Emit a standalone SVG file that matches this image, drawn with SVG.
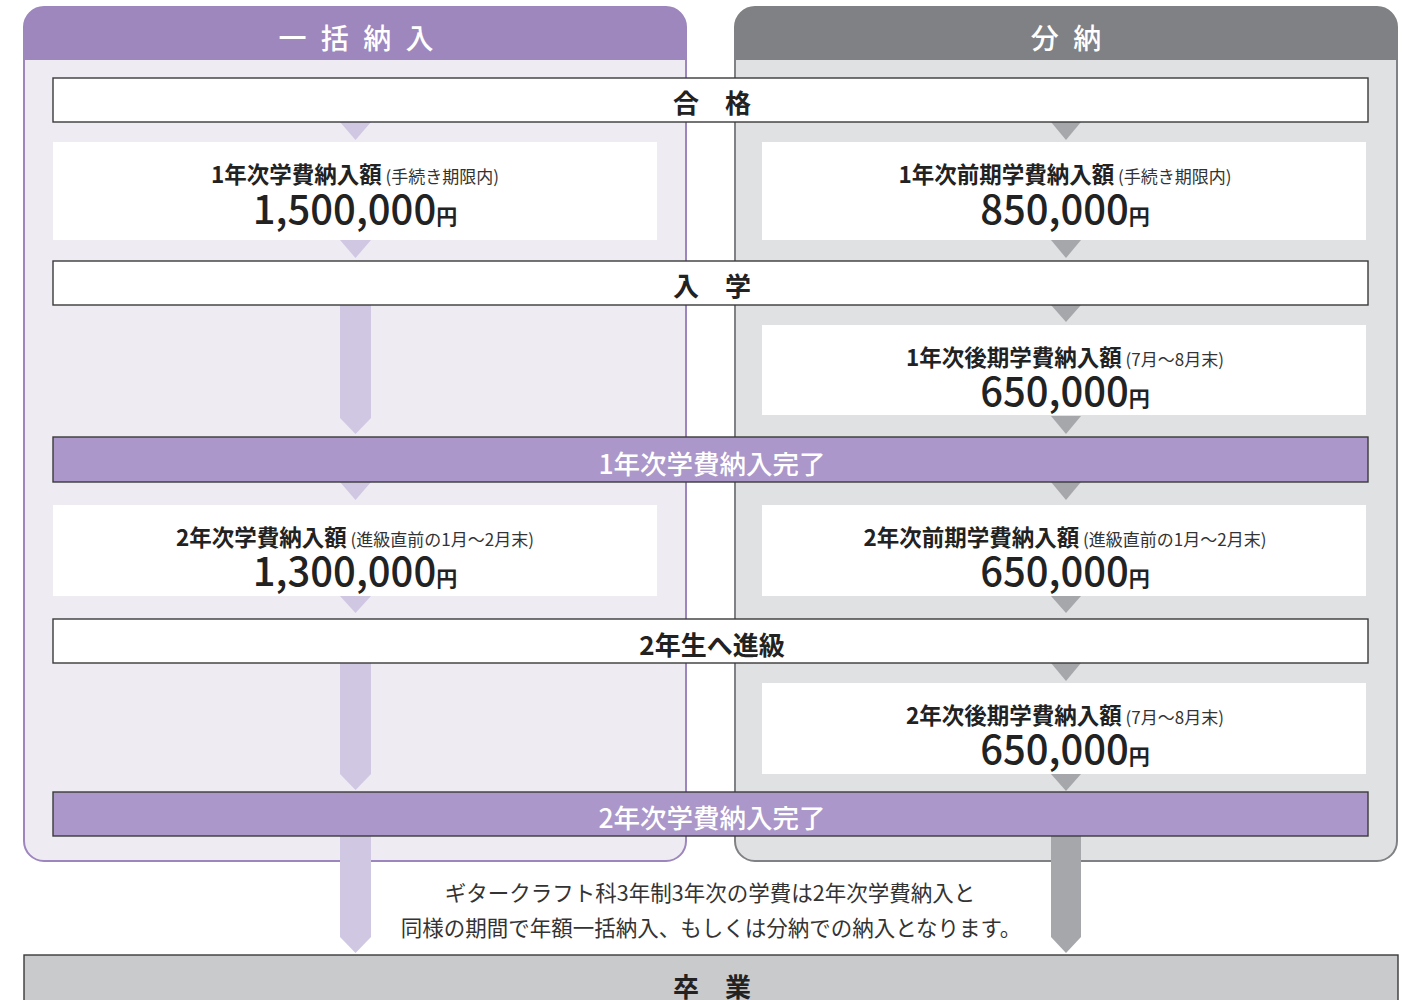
<svg xmlns="http://www.w3.org/2000/svg" width="1412" height="1000" viewBox="0 0 1412 1000">
<style>
text{font-family:"Noto Sans CJK JP","Noto Sans",sans-serif;}
.hdr{fill:#fff;font-size:28px;font-weight:500;text-anchor:middle;letter-spacing:4px;}
.stage{fill:#222;font-size:26px;font-weight:700;text-anchor:middle;}
.done{fill:#fff;font-size:26.5px;font-weight:500;text-anchor:middle;}
.lbl{fill:#222;font-size:22.5px;font-weight:700;text-anchor:middle;}
.sub{font-size:17px;font-weight:400;fill:#333;}
.amt{fill:#222;font-size:40px;font-weight:500;text-anchor:middle;}
.yen{font-size:21px;font-weight:700;}
.note{fill:#333;font-size:21.5px;font-weight:400;text-anchor:middle;}
.wbox{fill:#fff;}
.sbox{fill:#fff;stroke:#3a3a3a;stroke-width:1.4;}
.pbar{fill:#ab97c9;stroke:#3a3a3a;stroke-width:1.4;}
.la{fill:#d0c7e3;}
.ra{fill:#a6a7aa;}
</style>
<rect width="1412" height="1000" fill="#fff"/>
<g id="panel-lump">
<rect x="24" y="7" width="662" height="854" rx="20" fill="#eeebf3" stroke="#9c86bd" stroke-width="2"/>
<path d="M24,60 V27 A20,20 0 0 1 44,7 H666 A20,20 0 0 1 686,27 V60 Z" fill="#9d87bd"/>
<text class="hdr" x="358" y="49">一 括 納 入</text>
</g>
<g id="panel-split">
<rect x="735" y="7" width="662" height="854" rx="20" fill="#e0e1e3" stroke="#808184" stroke-width="2"/>
<path d="M735,60 V27 A20,20 0 0 1 755,7 H1377 A20,20 0 0 1 1397,27 V60 Z" fill="#808184"/>
<text class="hdr" x="1068" y="49">分 納</text>
</g>
<g id="connectors">
<polygon class="la" points="340,122 371,122 355.5,140"/>
<polygon class="la" points="340,240 371,240 355.5,258"/>
<polygon class="la" points="340,305 371,305 371,418 355.5,434 340,418"/>
<polygon class="la" points="340,482 371,482 355.5,500"/>
<polygon class="la" points="340,596 371,596 355.5,613"/>
<polygon class="la" points="340,663 371,663 371,774 355.5,790 340,774"/>
<polygon class="la" points="340,836 371,836 371,937 355.5,953 340,937"/>
<polygon class="ra" points="1051,122 1081,122 1066,140"/>
<polygon class="ra" points="1051,240 1081,240 1066,258"/>
<polygon class="ra" points="1051,305 1081,305 1066,322"/>
<polygon class="ra" points="1051,416 1081,416 1066,434"/>
<polygon class="ra" points="1051,482 1081,482 1066,500"/>
<polygon class="ra" points="1051,596 1081,596 1066,613"/>
<polygon class="ra" points="1051,663 1081,663 1066,681"/>
<polygon class="ra" points="1051,774 1081,774 1066,791"/>
<polygon class="ra" points="1051,836 1081,836 1081,937 1066,953 1051,937"/>
</g>
<g id="pass">
<rect class="sbox" x="53" y="78" width="1315" height="44"/>
<text class="stage" x="712" y="113">合　格</text>
</g>
<g id="lump-y1">
<rect class="wbox" x="53" y="142" width="604" height="98"/>
<text class="lbl" x="355" y="183">1年次学費納入額<tspan class="sub"> (手続き期限内)</tspan></text>
<text class="amt" x="355" y="224">1,500,000<tspan class="yen">円</tspan></text>
</g>
<g id="split-y1a">
<rect class="wbox" x="762" y="142" width="604" height="98"/>
<text class="lbl" x="1065" y="183">1年次前期学費納入額<tspan class="sub"> (手続き期限内)</tspan></text>
<text class="amt" x="1065" y="224">850,000<tspan class="yen">円</tspan></text>
</g>
<g id="enroll">
<rect class="sbox" x="53" y="261" width="1315" height="44"/>
<text class="stage" x="712" y="296">入　学</text>
</g>
<g id="split-y1b">
<rect class="wbox" x="762" y="325" width="604" height="90"/>
<text class="lbl" x="1065" y="366">1年次後期学費納入額<tspan class="sub"> (7月〜8月末)</tspan></text>
<text class="amt" x="1065" y="406">650,000<tspan class="yen">円</tspan></text>
</g>
<g id="done-y1">
<rect class="pbar" x="53" y="437" width="1315" height="45"/>
<text class="done" x="712" y="474">1年次学費納入完了</text>
</g>
<g id="lump-y2">
<rect class="wbox" x="53" y="505" width="604" height="91"/>
<text class="lbl" x="355" y="546">2年次学費納入額<tspan class="sub"> (進級直前の1月〜2月末)</tspan></text>
<text class="amt" x="355" y="586">1,300,000<tspan class="yen">円</tspan></text>
</g>
<g id="split-y2a">
<rect class="wbox" x="762" y="505" width="604" height="91"/>
<text class="lbl" x="1065" y="546">2年次前期学費納入額<tspan class="sub"> (進級直前の1月〜2月末)</tspan></text>
<text class="amt" x="1065" y="586">650,000<tspan class="yen">円</tspan></text>
</g>
<g id="promote">
<rect class="sbox" x="53" y="619" width="1315" height="44"/>
<text class="stage" x="712" y="655">2年生へ進級</text>
</g>
<g id="split-y2b">
<rect class="wbox" x="762" y="683" width="604" height="91"/>
<text class="lbl" x="1065" y="724">2年次後期学費納入額<tspan class="sub"> (7月〜8月末)</tspan></text>
<text class="amt" x="1065" y="764">650,000<tspan class="yen">円</tspan></text>
</g>
<g id="done-y2">
<rect class="pbar" x="53" y="792" width="1315" height="44"/>
<text class="done" x="712" y="828">2年次学費納入完了</text>
</g>
<g id="note">
<text class="note" x="710" y="901">ギタークラフト科3年制3年次の学費は2年次学費納入と</text>
<text class="note" x="711" y="936">同様の期間で年額一括納入、もしくは分納での納入となります。</text>
</g>
<g id="graduate">
<rect x="24" y="955" width="1374" height="60" fill="#c9cacc" stroke="#3a3a3a" stroke-width="1.4"/>
<text class="stage" x="712" y="997">卒　業</text>
</g>
</svg>
